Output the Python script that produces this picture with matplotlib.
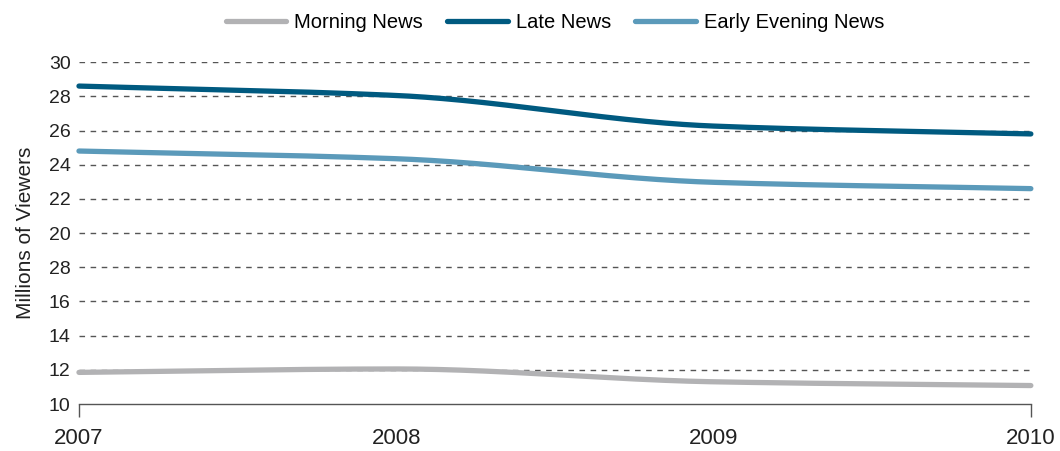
#!/usr/bin/env python3
"""
Network news viewership 2007-2010 (Millions of Viewers)
"""

import numpy as np
import matplotlib
matplotlib.use('Agg')
import matplotlib.pyplot as plt

plt.rcParams['font.family'] = ['Liberation Sans', 'DejaVu Sans']

# 데이터
years = [2007, 2008, 2009, 2010]
morning_news = [11.85, 12.05, 11.3, 11.08]
late_news = [28.6, 28.05, 26.26, 25.8]
early_evening_news = [24.8, 24.35, 22.97, 22.6]

y_ticks = [10, 12, 14, 16, 18, 20, 22, 24, 26, 28, 30]
y_tick_labels = ['10', '12', '14', '16', '28', '20', '22', '24', '26', '28', '30']

series_names = ['Morning News', 'Late News', 'Early Evening News']
series_colors = ['#b2b2b4', '#005a80', '#5b9aba']


def pchip(x, y, n=200):
    """단조 3차 보간으로 부드러운 곡선 그리기"""
    x = np.asarray(x, dtype=float)
    y = np.asarray(y, dtype=float)
    h = np.diff(x)
    d = np.diff(y) / h
    m = np.zeros_like(y)
    m[0], m[-1] = d[0], d[-1]
    for i in range(1, len(x) - 1):
        if d[i - 1] * d[i] > 0:
            m[i] = 2 / (1 / d[i - 1] + 1 / d[i])
    xs, ys = [], []
    for i in range(len(x) - 1):
        t = np.linspace(0, 1, n)
        h00 = 2 * t**3 - 3 * t**2 + 1
        h10 = t**3 - 2 * t**2 + t
        h01 = -2 * t**3 + 3 * t**2
        h11 = t**3 - t**2
        xs.append(x[i] + t * h[i])
        ys.append(h00 * y[i] + h10 * h[i] * m[i] + h01 * y[i + 1] + h11 * h[i] * m[i + 1])
    return np.concatenate(xs), np.concatenate(ys)


fig = plt.figure(figsize=(10.6, 4.51), dpi=100)
ax = fig.add_axes([0.0745, 0.1042, 0.898, 0.758])

for data, name, color in zip([morning_news, late_news, early_evening_news],
                             series_names, series_colors):
    sx, sy = pchip(years, data)
    ax.plot(sx, sy, color=color, lw=3.8, solid_capstyle='round',
            label=name, clip_on=False, zorder=3)

ax.set_xlim(2007, 2010)
ax.set_ylim(10, 30)
ax.set_yticks(y_ticks)
ax.set_yticklabels(y_tick_labels)
ax.set_xticks(years)
ax.set_xticklabels([str(y) for y in years])
ax.xaxis.remove_overlapping_locs = False
ax.set_xticks([2007, 2010], minor=True)

ax.tick_params(axis='y', length=0, labelsize=14, pad=6, colors='#222222')
ax.tick_params(axis='x', which='major', length=0, labelsize=16, pad=17, colors='#222222')
ax.tick_params(axis='x', which='minor', length=9, width=1, color='#555555', direction='out')

for y in y_ticks[1:]:
    ax.axhline(y, color='#555555', lw=1, ls=(0, (4, 4)), zorder=1)

for side in ['top', 'right', 'left']:
    ax.spines[side].set_visible(False)
ax.spines['bottom'].set_color('#555555')
ax.spines['bottom'].set_linewidth(1)

ax.set_ylabel('Millions of Viewers', fontsize=15, color='#222222', labelpad=10)

ax.legend(loc='center', bbox_to_anchor=(0.5, 1.117), ncol=3, frameon=False,
          fontsize=14.5, handlelength=3.0, handletextpad=0.4, columnspacing=1.2)

plt.savefig('out.png', dpi=100)
plt.close()
